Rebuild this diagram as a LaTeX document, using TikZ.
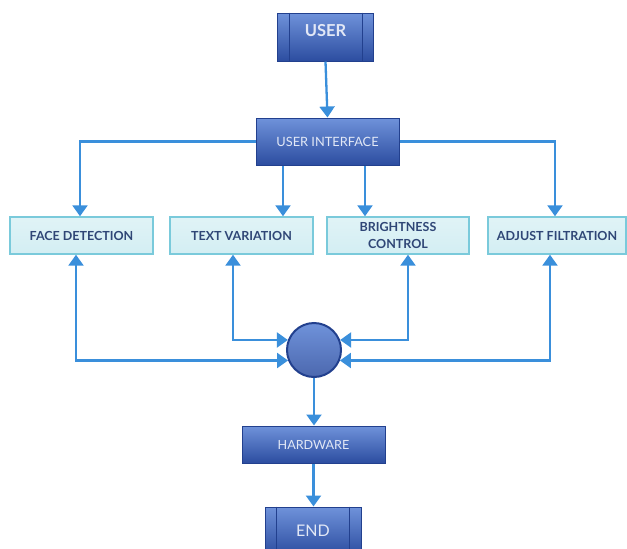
\documentclass[tikz,border=0pt]{standalone}
\usepackage{fontspec}
\setmainfont{Lato}
\usetikzlibrary{arrows.meta}
\definecolor{arrowblue}{HTML}{3A8FDB}
\definecolor{darktop}{HTML}{6F92DA}
\definecolor{darkbot}{HTML}{2C4DA0}
\definecolor{darkborder}{HTML}{22408E}
\definecolor{lightfill}{HTML}{D3EEF3}
\definecolor{lightborder}{HTML}{7ACADB}
\definecolor{labeltext}{HTML}{2F4676}
\definecolor{paletext}{HTML}{E2E8F6}
\tikzset{
  darkbox/.style={draw=darkborder, line width=1pt, top color=darktop, bottom color=darkbot,
    text=paletext, inner sep=0pt, align=center},
  lightbox/.style={draw=lightborder, line width=1.4pt, top color=lightfill!70!white, bottom color=lightfill,
    text=labeltext, inner sep=0pt, align=center, minimum height=37pt,
    font=\fontsize{12.5pt}{16.5pt}\selectfont\bfseries},
  conn/.style={draw=arrowblue, line width=2.3pt, -{Triangle[width=15pt,length=11pt]}},
  biconn/.style={draw=arrowblue, line width=2.3pt, {Triangle[width=15pt,length=11pt]}-{Triangle[width=15pt,length=11pt]}},
  hub/.style={circle, draw=darkborder, line width=2pt, inner sep=0pt, minimum size=54pt,
    top color=darktop, bottom color=darkbot!85!white},
}
\begin{document}
\begin{tikzpicture}[x=1pt,y=-1pt]
\useasboundingbox (0,0) rectangle (627,549);
% nodes
\node[darkbox, minimum width=96pt, minimum height=48pt, font=\fontsize{16.5pt}{18pt}\selectfont\bfseries] (user) at (325.5,37) {\raisebox{14pt}{USER}};
\draw[darkborder, line width=1pt] ([xshift=12pt]user.north west) -- ([xshift=12pt]user.south west);
\draw[darkborder, line width=1pt] ([xshift=-12pt]user.north east) -- ([xshift=-12pt]user.south east);

\node[darkbox, minimum width=143pt, minimum height=47pt, font=\fontsize{12.8pt}{14pt}\selectfont] (ui) at (327.5,141.5) {USER INTERFACE};

\node[lightbox, minimum width=143pt] (fd) at (81.5,235.5) {FACE DETECTION};
\node[lightbox, minimum width=143pt] (tv) at (241.5,235.5) {TEXT VARIATION};
\node[lightbox, minimum width=142pt] (bc) at (398,235.5) {BRIGHTNESS\\CONTROL};
\node[lightbox, minimum width=138pt] (af) at (557,235.5) {ADJUST FILTRATION};

\node[hub] (circ) at (314,350) {};

\node[darkbox, minimum width=143pt, minimum height=37pt, font=\fontsize{12.6pt}{14pt}\selectfont] (hw) at (313.5,444.5) {HARDWARE};

\node[darkbox, minimum width=96pt, minimum height=48pt, font=\fontsize{16pt}{18pt}\selectfont] (end) at (313,531) {END};
\draw[darkborder, line width=1pt] ([xshift=12pt]end.north west) -- ([xshift=12pt]end.south west);
\draw[darkborder, line width=1pt] ([xshift=-12pt]end.north east) -- ([xshift=-12pt]end.south east);

% connectors
\draw[conn] (user.south) -- (ui.north);
\draw[conn] (ui.west) -| (fd.north -| 80,0);
\draw[conn] (ui.east) -| (af.north -| 555,0);
\draw[conn] (ui.south -| 283,0) -- (tv.north -| 283,0);
\draw[conn] (ui.south -| 365,0) -- (bc.north -| 365,0);

\draw[biconn] (fd.south -| 76,0) |- (circ.202);
\draw[biconn] (tv.south -| 233,0) |- (circ.159);
\draw[biconn] (bc.south -| 408,0) |- (circ.21);
\draw[biconn] (af.south -| 550,0) |- (circ.-22);

\draw[conn] (circ.south) -- (hw.north -| circ.south);
\draw[conn] (hw.south) -- (end.north -| hw.south);
\end{tikzpicture}
\end{document}
